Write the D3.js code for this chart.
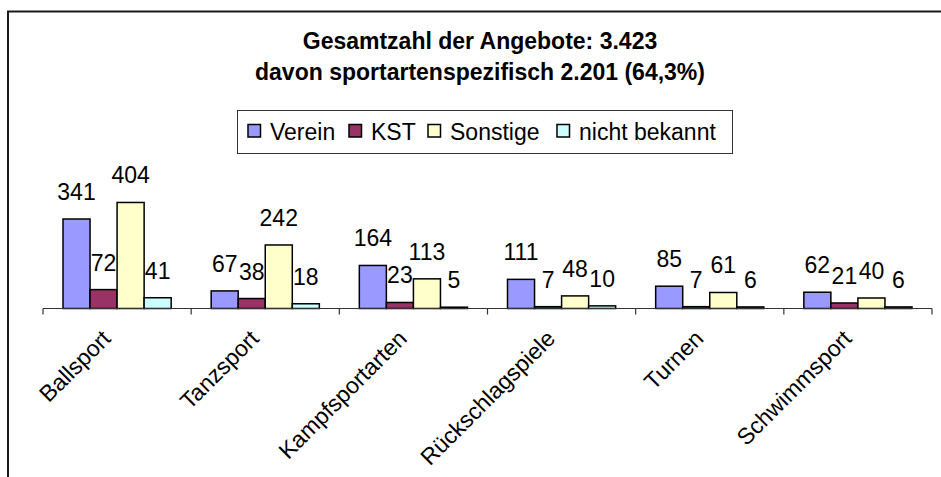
<!DOCTYPE html>
<html>
<head>
<meta charset="utf-8">
<script src="https://cdn.jsdelivr.net/npm/d3@7"></script>
<style>
  html, body { margin: 0; padding: 0; background: #fff; }
  svg { display: block; font-family: Arial, "Liberation Sans", sans-serif; }
</style>
</head>
<body>
<svg id="chart" width="941" height="477"></svg>
<script>
const categories = ["Ballsport", "Tanzsport", "Kampfsportarten", "Rückschlagspiele", "Turnen", "Schwimmsport"];
const seriesNames = ["Verein", "KST", "Sonstige", "nicht bekannt"];
const verein = [341, 67, 164, 111, 85, 62];
const kst = [72, 38, 23, 7, 7, 21];
const sonstige = [404, 242, 113, 48, 61, 40];
const nichtBekannt = [41, 18, 5, 10, 6, 6];
const seriesColors = ["#9999FF", "#993366", "#FFFFCC", "#CCFFFF"];
const titleLines = ["Gesamtzahl der Angebote: 3.423", "davon sportartenspezifisch 2.201 (64,3%)"];

const seriesValues = [verein, kst, sonstige, nichtBekannt];
const svg = d3.select("#chart");
const FS = 23;

// outer chart frame (top and left edges visible)
svg.append("path")
  .attr("d", "M8,477 L8,11.5 L941,11.5")
  .attr("fill", "none").attr("stroke", "#1a1a1a").attr("stroke-width", 2);

// title
const title = svg.append("text")
  .attr("text-anchor", "middle")
  .attr("font-weight", "bold")
  .attr("font-size", FS)
  .attr("fill", "#000");
title.selectAll("tspan").data(titleLines).join("tspan")
  .attr("x", 480)
  .attr("y", (d, i) => 49 + i * 31)
  .text(d => d);

// scales
const x0 = d3.scaleBand().domain(categories).range([43, 932]).paddingInner(0).paddingOuter(0);
const x1 = d3.scaleBand().domain(seriesNames).range([20, x0.bandwidth() - 20]).padding(0);
const y = d3.scaleLinear().domain([0, 450]).range([308.5, 190.4]);

// bars
const groups = svg.append("g").selectAll("g")
  .data(categories).join("g")
  .attr("transform", d => `translate(${x0(d)},0)`);

groups.selectAll("rect")
  .data((c, ci) => seriesNames.map((s, si) => ({ s, si, v: seriesValues[si][ci] })))
  .join("rect")
  .attr("x", d => x1(d.s))
  .attr("y", d => y(d.v))
  .attr("width", x1.bandwidth())
  .attr("height", d => y(0) - y(d.v))
  .attr("fill", d => seriesColors[d.si])
  .attr("stroke", "#000")
  .attr("stroke-width", 1.5);

groups.selectAll("text.lbl")
  .data((c, ci) => seriesNames.map((s, si) => ({ s, si, v: seriesValues[si][ci] })))
  .join("text")
  .attr("class", "lbl")
  .attr("x", d => x1(d.s) + x1.bandwidth() / 2)
  .attr("y", d => y(d.v) - 19)
  .attr("text-anchor", "middle")
  .attr("font-size", FS)
  .attr("fill", "#000")
  .text(d => d.v);

// x axis
const axisG = svg.append("g").attr("transform", "translate(0,308.5)");
axisG.append("line").attr("x1", 43).attr("x2", 932).attr("stroke", "#333").attr("stroke-width", 1.2);
const boundaries = categories.map(c => x0(c)).concat([x0.range()[1]]);
axisG.selectAll("line.tick").data(boundaries).join("line")
  .attr("class", "tick")
  .attr("x1", d => d).attr("x2", d => d)
  .attr("y1", 0).attr("y2", 6)
  .attr("stroke", "#333").attr("stroke-width", 1.2);

svg.append("g").selectAll("text")
  .data(categories).join("text")
  .attr("text-anchor", "end")
  .attr("font-size", FS)
  .attr("fill", "#000")
  .attr("transform", d => `translate(${x0(d) + x0.bandwidth() / 2 - 5},340) rotate(-45)`)
  .text(d => d);

// legend
const legend = svg.append("g");
legend.append("rect")
  .attr("x", 237.5).attr("y", 110.5).attr("width", 495).attr("height", 43)
  .attr("fill", "#fff").attr("stroke", "#333").attr("stroke-width", 1);
const legendSwatchX = [248, 349, 428, 557];
seriesNames.forEach((name, i) => {
  const lx = legendSwatchX[i];
  legend.append("rect")
    .attr("x", lx).attr("y", 124.5).attr("width", 12.5).attr("height", 12.5)
    .attr("fill", seriesColors[i]).attr("stroke", "#000").attr("stroke-width", 1.5);
  legend.append("text")
    .attr("x", lx + 22).attr("y", 139.5)
    .attr("font-size", FS).attr("fill", "#000")
    .text(name);
});
</script>
</body>
</html>
